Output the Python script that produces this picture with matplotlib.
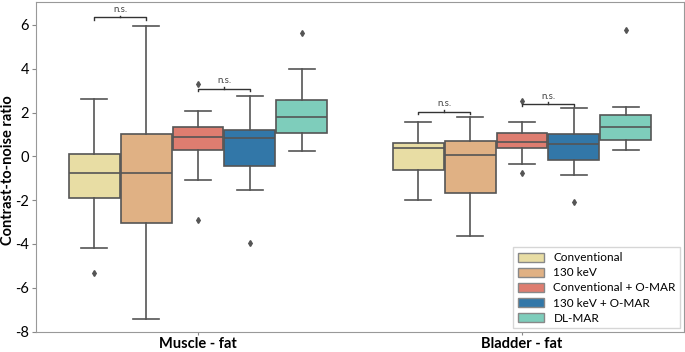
import matplotlib
matplotlib.use('Agg')
import matplotlib.pyplot as plt
from matplotlib.patches import Patch

plt.rcParams['font.family'] = ['Lato', 'DejaVu Sans']
plt.rcParams['axes.unicode_minus'] = False

# box statistics: (whislo, q1, med, q3, whishi, fliers)
groups = ['Muscle - fat', 'Bladder - fat']
methods = ['Conventional', '130 keV', 'Conventional + O-MAR', '130 keV + O-MAR', 'DL-MAR']
colors = ['#E8DDA4', '#E0B184', '#DE7D70', '#3277A8', '#7ECDBB']

muscle_stats = [
    (-4.20, -1.89, -0.77, 0.13, 2.60, [-5.32]),
    (-7.42, -3.03, -0.77, 1.04, 5.97, []),
    (-1.09, 0.30, 0.89, 1.32, 2.08, [3.29, -2.92]),
    (-1.53, -0.45, 0.83, 1.20, 2.74, [-3.97]),
    (0.24, 1.09, 1.82, 2.57, 4.00, [5.62]),
]
bladder_stats = [
    (-1.98, -0.62, 0.39, 0.63, 1.59, []),
    (-3.65, -1.68, 0.08, 0.72, 1.78, []),
    (-0.33, 0.39, 0.65, 1.09, 1.56, [2.54, -0.77]),
    (-0.83, -0.15, 0.56, 1.00, 2.19, [-2.10]),
    (0.27, 0.74, 1.36, 1.89, 2.27, [5.76]),
]

# "n.s." brackets: (group index, left method, right method, height)
brackets = [
    (0, 0, 1, 6.35),
    (0, 2, 3, 3.09),
    (1, 0, 1, 2.04),
    (1, 2, 3, 2.40),
]

fig = plt.figure(figsize=(6.85, 3.52), dpi=100)
ax = fig.add_axes([0.0526, 0.0568, 0.946, 0.9375])

n = len(methods)
width = 0.8 / n


def hue_pos(g, m):
    return g - 0.4 + width * (m + 0.5)


edge = '#555555'
for g, stats in enumerate([muscle_stats, bladder_stats]):
    for m, (lo, q1, med, q3, hi, fl) in enumerate(stats):
        bx = ax.bxp([{'whislo': lo, 'q1': q1, 'med': med, 'q3': q3,
                      'whishi': hi, 'fliers': fl}],
                    positions=[hue_pos(g, m)], widths=width * 0.98,
                    patch_artist=True, manage_ticks=False,
                    boxprops=dict(facecolor=colors[m], edgecolor=edge, linewidth=1.2),
                    medianprops=dict(color=edge, linewidth=1.2),
                    whiskerprops=dict(color=edge, linewidth=1.2),
                    capprops=dict(color=edge, linewidth=1.2),
                    flierprops=dict(marker='d', markersize=3, markerfacecolor=edge,
                                    markeredgecolor=edge))
        for c in bx['caps']:
            x = c.get_xdata()
            mid = (x[0] + x[1]) / 2
            c.set_xdata([mid - width * 0.25, mid + width * 0.25])

for g, a, b, h in brackets:
    x1, x2 = hue_pos(g, a), hue_pos(g, b)
    xm = (x1 + x2) / 2
    ax.plot([x1, x1, x2, x2], [h - 0.1, h, h, h - 0.1], color='#333333', lw=1)
    ax.plot([xm, xm], [h, h + 0.08], color='#333333', lw=1)
    ax.text(xm, h + 0.15, 'n.s.', ha='center', va='bottom', fontsize=7, color='#444444')

ax.set_xlim(-0.5, 1.5)
ax.set_ylim(-8.02, 7.05)
ax.set_xticks(range(len(groups)))
ax.set_xticklabels(groups, fontsize=10.5, fontweight='bold')
ax.set_yticks(range(-8, 7, 2))
ax.tick_params(axis='y', labelsize=10.5, length=3, color='#888888', pad=2)
ax.tick_params(axis='x', length=2, color='#888888', pad=1.5)
ax.set_ylabel('Contrast-to-noise ratio', fontsize=10.5, fontweight='bold')
ax.yaxis.label.set_ha('center')
ax.yaxis.label.set_va('center')
ax.yaxis.set_label_coords(-0.044, 0.49)
for s in ax.spines.values():
    s.set_color('#999999')

handles = [Patch(facecolor=c, edgecolor='#888888', label=l) for c, l in zip(colors, methods)]
ax.legend(handles=handles, loc='lower right', fontsize=8.5, frameon=True,
          edgecolor='#cccccc', fancybox=False, borderaxespad=0.3,
          handlelength=2.2, handleheight=0.8, labelspacing=0.35)

fig.savefig('out.png', dpi=100)
